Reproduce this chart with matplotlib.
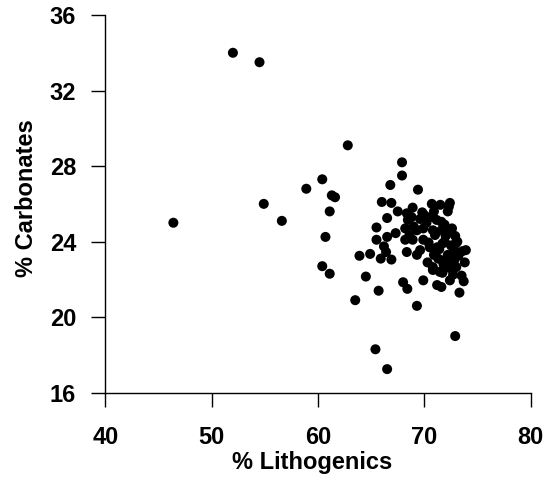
import matplotlib
matplotlib.use("Agg")
import matplotlib.pyplot as plt

# Outlying points
lith_out = [46.4, 52.0, 54.5, 62.8, 60.4, 58.9, 61.3, 61.6, 54.9, 61.1, 56.6, 60.7, 60.4, 61.1,
            64.5, 68.0, 68.4, 69.9, 65.7, 63.5, 69.3, 71.2, 71.6, 72.4, 73.7, 73.3, 72.9, 65.4, 66.5,
            67.9, 67.9, 66.8, 66.0, 66.9, 67.5, 66.5, 65.5, 67.3, 66.5, 65.5, 66.2, 66.4, 63.9, 64.9,
            65.9, 66.9, 69.4, 70.7, 71.5, 72.4]
carb_out = [25.0, 34.0, 33.5, 29.1, 27.3, 26.8, 26.45, 26.35, 26.0, 25.6, 25.1, 24.25, 22.7, 22.3,
            22.15, 21.85, 21.5, 21.95, 21.4, 20.9, 20.6, 21.7, 21.6, 21.95, 21.9, 21.3, 19.0, 18.3, 17.25,
            28.2, 27.5, 27.0, 26.1, 26.05, 25.6, 25.25, 24.75, 24.45, 24.25, 24.1, 23.75, 23.45, 23.25, 23.35,
            23.1, 23.05, 26.75, 26.0, 25.95, 26.05]

# Dense cluster
lith_cl = [68.9, 68.35, 69.8, 68.45, 68.2, 69.3, 70.2, 71.15, 71.6, 70.8, 72.6, 68.2, 68.9, 69.9,
           69.6, 68.35, 69.3, 70.5, 71.15, 71.7, 72.95, 72.8, 73.9, 73.8, 70.8, 71.7, 72.4, 73.0,
           71.45, 72.7, 70.8, 71.7, 70.0, 71.0, 72.0, 72.2, 72.9, 71.3, 70.4, 69.6, 70.9, 71.9,
           72.5, 73.2, 73.5, 72.3, 71.6, 70.3, 69.0, 68.6, 71.2, 72.8, 73.6, 72.1, 70.6,
           71.9, 72.4, 71.4, 70.9, 72.6, 71.8, 69.9, 68.8, 73.1, 72.2]
carb_cl = [25.8, 25.5, 25.55, 25.15, 24.7, 24.6, 25.0, 25.15, 25.05, 24.6, 24.7, 24.1, 24.1, 24.1,
           23.55, 23.45, 23.3, 23.7, 23.55, 23.9, 23.9, 23.55, 23.55, 22.9, 22.65, 23.0, 22.6, 22.65,
           22.4, 22.25, 22.5, 22.35, 25.4, 24.35, 24.3, 23.3, 24.3, 23.1, 23.95, 25.2, 25.6, 24.9,
           23.8, 23.25, 22.2, 25.85, 24.6, 22.9, 24.8, 24.35, 23.7, 23.0, 23.5, 22.8, 25.3,
           24.0, 24.5, 23.6, 23.3, 23.2, 22.8, 24.7, 25.3, 24.0, 25.6]

lith = lith_out + lith_cl
carb = carb_out + carb_cl

x_ticks = [40, 50, 60, 70, 80]
y_ticks = [16, 20, 24, 28, 32, 36]

plt.rcParams['font.family'] = ['Liberation Sans', 'DejaVu Sans']

fig = plt.figure(figsize=(5.53, 4.87), dpi=100)
ax = fig.add_axes([0.1904, 0.1936, 0.9597 - 0.1904, 0.9692 - 0.1936])
ax.scatter(lith, carb, s=52, color='black', edgecolors='none', zorder=3)

ax.set_xlim(40, 80)
ax.set_ylim(16, 36)
ax.set_xticks(x_ticks)
ax.set_yticks(y_ticks)
for s in ['top', 'right']:
    ax.spines[s].set_visible(False)
for s in ['left', 'bottom']:
    ax.spines[s].set_linewidth(1.0)
ax.tick_params(axis='both', direction='out', length=10, width=1.0, labelsize=17)
ax.tick_params(axis='x', pad=14)
ax.tick_params(axis='y', pad=11)
for lab in ax.get_xticklabels() + ax.get_yticklabels():
    lab.set_fontweight('bold')

fig.text(312 / 553, 1 - 463 / 487, '% Lithogenics', fontsize=17, fontweight='bold',
         ha='center', va='center')
fig.text(27 / 553, 1 - 198 / 487, '% Carbonates', fontsize=17, fontweight='bold',
         ha='center', va='center', rotation=90)

fig.savefig('out.png', dpi=100)
